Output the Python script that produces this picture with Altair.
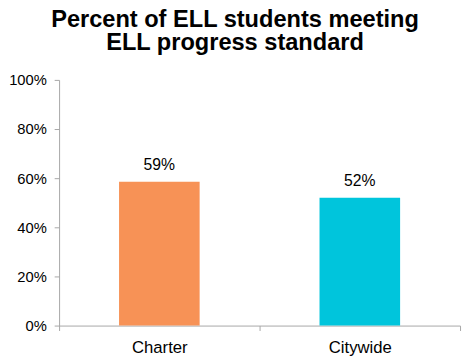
import altair as alt
import pandas as pd

categories = ["Charter", "Citywide"]
values = [0.585, 0.52]
labels = ["59%", "52%"]
colors = ["#F79256", "#00C5DC"]

df = pd.DataFrame({"cat": categories, "val": values, "label": labels})

x = alt.X("cat:N", sort=categories, title=None,
          scale=alt.Scale(paddingInner=0, paddingOuter=0),
          axis=alt.Axis(labelAngle=0, labelFontSize=17, labelColor="#000", labelFont="Liberation Sans",
                        domainColor="#a6a6a6", tickColor="#a6a6a6", tickBand="extent", tickSize=5,
                        labelPadding=9))
y = alt.Y("val:Q", title=None,
          scale=alt.Scale(domain=[0, 1]),
          axis=alt.Axis(format=".0%", values=[0, 0.2, 0.4, 0.6, 0.8, 1.0], grid=False,
                        labelFontSize=15, labelColor="#000", labelFont="Liberation Sans",
                        domainColor="#a6a6a6", tickColor="#a6a6a6", tickSize=5, labelPadding=8))

bars = alt.Chart(df).mark_bar(size=82).encode(
    x=x, y=y,
    color=alt.Color("cat:N", scale=alt.Scale(domain=categories, range=colors), legend=None),
)
text = alt.Chart(df).mark_text(dy=-12, baseline="alphabetic", fontSize=16,
                               font="Liberation Sans", color="#000").encode(
    x=alt.X("cat:N", sort=categories), y="val:Q", text="label:N"
)

chart = (bars + text).properties(
    width=408, height=250,
    title=alt.TitleParams(["Percent of ELL students meeting", "ELL progress standard"],
                          fontSize=24, font="Liberation Sans", fontWeight="bold", color="#000",
                          anchor="middle", dx=-25, lineHeight=24, offset=18),
    autosize=alt.AutoSizeParams(type="none"),
    padding={"left": 52, "top": 70, "right": 3, "bottom": 40},
).configure_view(stroke=None)

chart.save("out.html", embed_options={"renderer": "svg", "actions": False})
